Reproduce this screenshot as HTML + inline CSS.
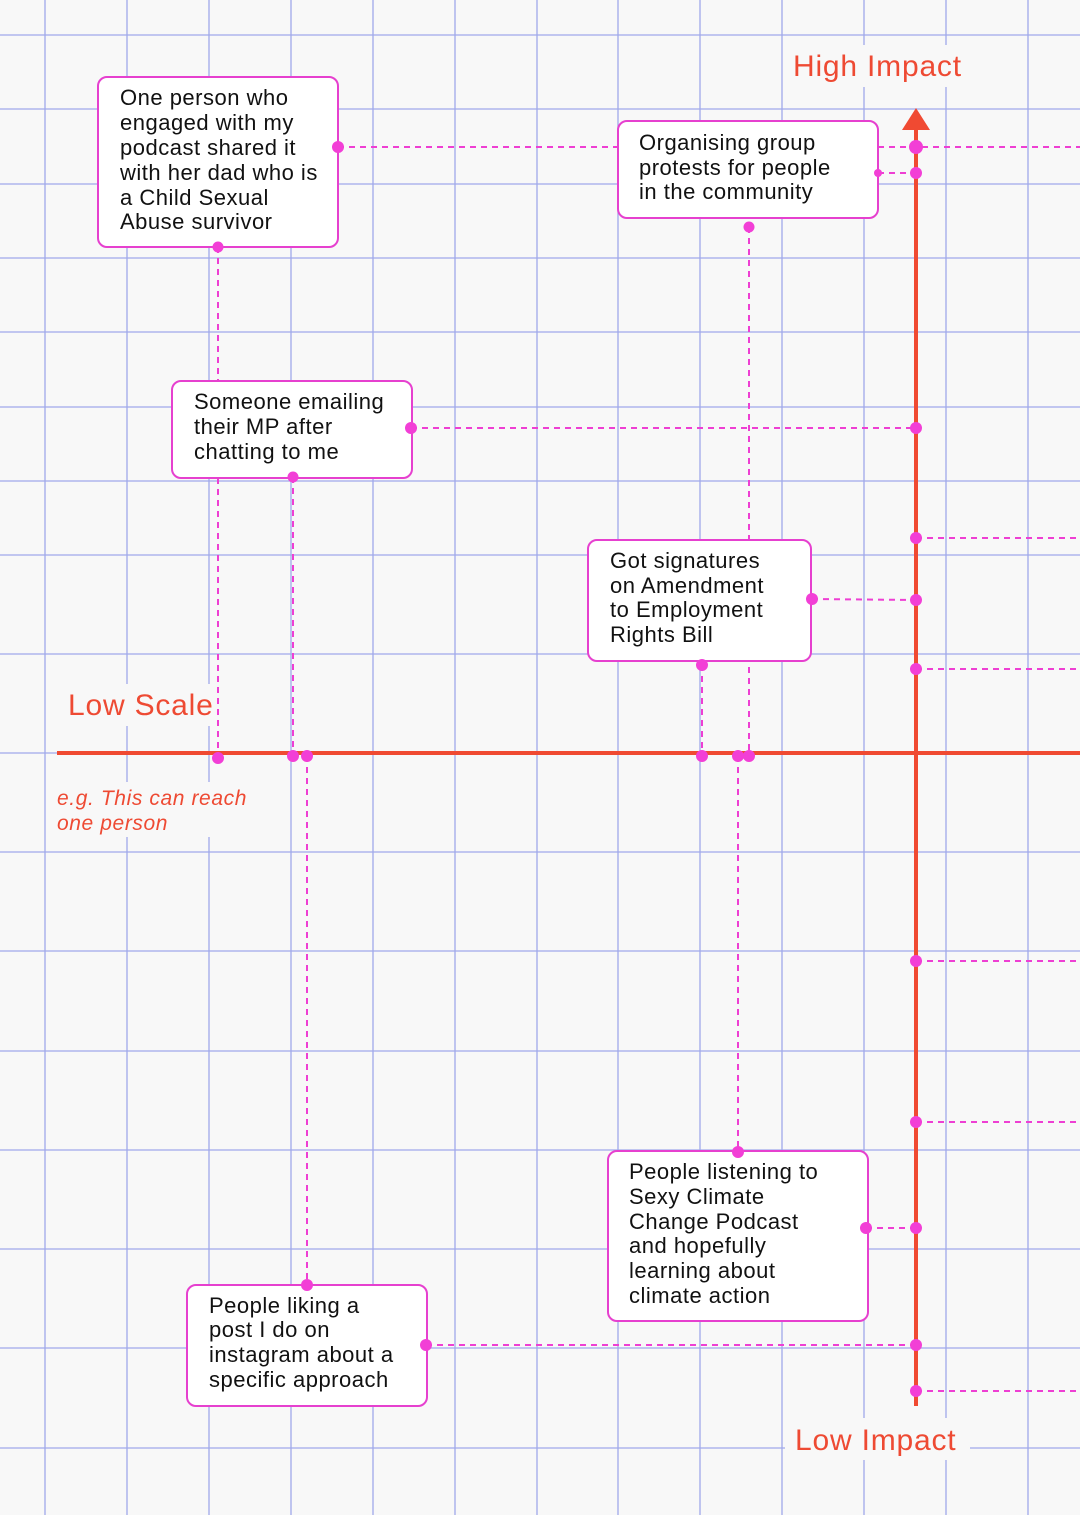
<!DOCTYPE html>
<html><head><meta charset="utf-8"><style>
html,body{margin:0;padding:0;background:#f8f8f8}
svg{display:block}
.t{font-family:"Liberation Sans",sans-serif;font-size:22px;letter-spacing:0.5px;fill:#111}
.r{font-family:"Liberation Sans",sans-serif;fill:#ee4a33}
</style></head><body>
<svg width="1080" height="1515" viewBox="0 0 1080 1515" xmlns="http://www.w3.org/2000/svg">
<rect width="1080" height="1515" fill="#f8f8f8"/>
<g stroke="#a0a9ea" stroke-width="1.3">
<line x1="45" y1="0" x2="45" y2="1515"/><line x1="127" y1="0" x2="127" y2="1515"/><line x1="209" y1="0" x2="209" y2="1515"/><line x1="291" y1="0" x2="291" y2="1515"/><line x1="373" y1="0" x2="373" y2="1515"/><line x1="455" y1="0" x2="455" y2="1515"/><line x1="537" y1="0" x2="537" y2="1515"/><line x1="618" y1="0" x2="618" y2="1515"/><line x1="700" y1="0" x2="700" y2="1515"/><line x1="782" y1="0" x2="782" y2="1515"/><line x1="864" y1="0" x2="864" y2="1515"/><line x1="946" y1="0" x2="946" y2="1515"/><line x1="1028" y1="0" x2="1028" y2="1515"/>
<line x1="0" y1="35" x2="1080" y2="35"/><line x1="0" y1="109" x2="1080" y2="109"/><line x1="0" y1="184" x2="1080" y2="184"/><line x1="0" y1="258" x2="1080" y2="258"/><line x1="0" y1="332" x2="1080" y2="332"/><line x1="0" y1="407" x2="1080" y2="407"/><line x1="0" y1="481" x2="1080" y2="481"/><line x1="0" y1="555" x2="1080" y2="555"/><line x1="0" y1="654" x2="1080" y2="654"/><line x1="0" y1="753" x2="1080" y2="753"/><line x1="0" y1="852" x2="1080" y2="852"/><line x1="0" y1="951" x2="1080" y2="951"/><line x1="0" y1="1051" x2="1080" y2="1051"/><line x1="0" y1="1150" x2="1080" y2="1150"/><line x1="0" y1="1249" x2="1080" y2="1249"/><line x1="0" y1="1348" x2="1080" y2="1348"/><line x1="0" y1="1448" x2="1080" y2="1448"/>
</g>
<g fill="#f8f8f8">
<rect x="785" y="45" width="185" height="42"/>
<rect x="60" y="684" width="158" height="42"/>
<rect x="50" y="782" width="205" height="55"/>
<rect x="785" y="1418" width="185" height="42"/>
</g>
<g stroke="#f04a32" stroke-width="4">
<line x1="57" y1="753" x2="1080" y2="753"/>
<line x1="916" y1="128" x2="916" y2="1406"/>
</g>
<polygon points="916,108 902,130 930,130" fill="#f04a32"/>
<g stroke="#ee3fd3" stroke-width="2" stroke-dasharray="6,5" fill="none">
<line x1="338" y1="147" x2="618" y2="147"/><line x1="878" y1="147" x2="1080" y2="147"/>
<line x1="218" y1="247" x2="218" y2="758"/>
<line x1="749" y1="227" x2="749" y2="756"/>
<line x1="878" y1="173" x2="916" y2="173"/>
<line x1="411" y1="428" x2="916" y2="428"/>
<line x1="293" y1="477" x2="293" y2="756"/>
<line x1="812" y1="599" x2="916" y2="600"/>
<line x1="702" y1="665" x2="702" y2="756"/>
<line x1="916" y1="538" x2="1080" y2="538"/>
<line x1="916" y1="669" x2="1080" y2="669"/>
<line x1="916" y1="961" x2="1080" y2="961"/>
<line x1="916" y1="1122" x2="1080" y2="1122"/>
<line x1="916" y1="1391" x2="1080" y2="1391"/>
<line x1="307" y1="756" x2="307" y2="1285"/>
<line x1="738" y1="756" x2="738" y2="1152"/>
<line x1="866" y1="1228" x2="916" y2="1228"/>
<line x1="426" y1="1345" x2="916" y2="1345"/>
</g>
<g fill="#fff" stroke="#e640cf" stroke-width="2">
<rect x="98" y="77" width="240" height="170" rx="9"/>
<rect x="172" y="381" width="240" height="97" rx="9"/>
<rect x="618" y="121" width="260" height="97" rx="9"/>
<rect x="588" y="540" width="223" height="121" rx="9"/>
<rect x="608" y="1151" width="260" height="170" rx="9"/>
<rect x="187" y="1285" width="240" height="121" rx="9"/>
</g>
<g fill="#f23fd6">
<circle cx="338" cy="147" r="6"/><circle cx="916" cy="147" r="7"/>
<circle cx="218" cy="247" r="5.5"/><circle cx="218" cy="758" r="6"/>
<circle cx="749" cy="227" r="5.5"/><circle cx="749" cy="756" r="6"/>
<circle cx="878" cy="173" r="4"/><circle cx="916" cy="173" r="6"/>
<circle cx="411" cy="428" r="6"/><circle cx="916" cy="428" r="6"/>
<circle cx="293" cy="477" r="5.5"/><circle cx="293" cy="756" r="6"/>
<circle cx="812" cy="599" r="6"/><circle cx="916" cy="600" r="6"/>
<circle cx="702" cy="665" r="6"/><circle cx="702" cy="756" r="6"/>
<circle cx="916" cy="538" r="6"/><circle cx="916" cy="669" r="6"/>
<circle cx="916" cy="961" r="6"/><circle cx="916" cy="1122" r="6"/>
<circle cx="916" cy="1391" r="6"/>
<circle cx="307" cy="756" r="6"/><circle cx="307" cy="1285" r="6"/>
<circle cx="738" cy="756" r="6"/><circle cx="738" cy="1152" r="6"/>
<circle cx="866" cy="1228" r="6"/><circle cx="916" cy="1228" r="6"/>
<circle cx="426" cy="1345" r="6"/><circle cx="916" cy="1345" r="6"/>
</g>
<text class="t" x="120" y="105">One person who</text>
<text class="t" x="120" y="130">engaged with my</text>
<text class="t" x="120" y="155">podcast shared it</text>
<text class="t" x="120" y="180">with her dad who is</text>
<text class="t" x="120" y="205">a Child Sexual</text>
<text class="t" x="120" y="229">Abuse survivor</text>

<text class="t" x="194" y="409">Someone emailing</text>
<text class="t" x="194" y="434">their MP after</text>
<text class="t" x="194" y="459">chatting to me</text>

<text class="t" x="639" y="150">Organising group</text>
<text class="t" x="639" y="175">protests for people</text>
<text class="t" x="639" y="199">in the community</text>

<text class="t" x="610" y="568">Got signatures</text>
<text class="t" x="610" y="593">on Amendment</text>
<text class="t" x="610" y="617">to Employment</text>
<text class="t" x="610" y="642">Rights Bill</text>

<text class="t" x="629" y="1179">People listening to</text>
<text class="t" x="629" y="1204">Sexy Climate</text>
<text class="t" x="629" y="1229">Change Podcast</text>
<text class="t" x="629" y="1253">and hopefully</text>
<text class="t" x="629" y="1278">learning about</text>
<text class="t" x="629" y="1303">climate action</text>

<text class="t" x="209" y="1313">People liking a</text>
<text class="t" x="209" y="1337">post I do on</text>
<text class="t" x="209" y="1362">instagram about a</text>
<text class="t" x="209" y="1387">specific approach</text>

<text class="r" x="793" y="76" font-size="30" letter-spacing="0.8">High Impact</text>
<text class="r" x="68" y="715" font-size="30" letter-spacing="0.8">Low Scale</text>
<text class="r" x="57" y="805" font-size="21" font-style="italic" letter-spacing="0.6">e.g. This can reach</text>
<text class="r" x="57" y="830" font-size="21" font-style="italic" letter-spacing="0.6">one person</text>
<text class="r" x="795" y="1450" font-size="30" letter-spacing="0.8">Low Impact</text>
</svg>
</body></html>
